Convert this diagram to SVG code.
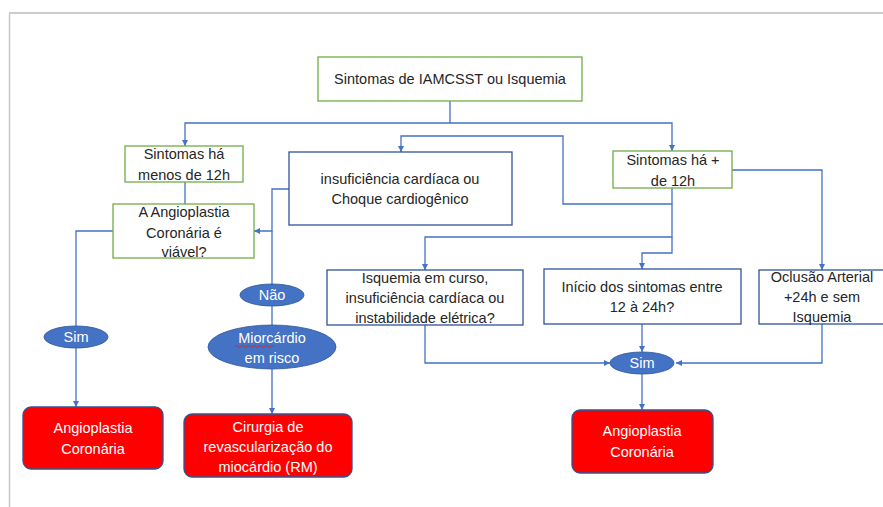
<svg xmlns="http://www.w3.org/2000/svg" width="883" height="507" viewBox="0 0 883 507">
<style>
text{font-family:"Liberation Sans","Open Sans",Arial,sans-serif;font-size:14.5px;fill:#262626;text-anchor:middle}
.w{fill:#ffffff}
.g{fill:#ffffff;stroke:#70AD47;stroke-width:1.3}
.b{fill:#ffffff;stroke:#2F5597;stroke-width:1.3}
.r{fill:#FF0000;stroke:#2F5597;stroke-width:1.3}
.e{fill:#4472C4;stroke:#2F5597;stroke-width:0.8}
.c{fill:none;stroke:#4472C4;stroke-width:1.3}
</style>
<defs>
<marker id="a" viewBox="0 0 10 10" refX="10" refY="5" markerWidth="6" markerHeight="6" markerUnits="userSpaceOnUse" orient="auto">
<path d="M0,0 L10,5 L0,10 z" fill="#4472C4"/>
</marker>
</defs>
<rect width="883" height="507" fill="#ffffff"/>
<g id="frame">
<line x1="9" y1="13" x2="883" y2="13" stroke="#cccccc" stroke-width="2"/>
<line x1="9.5" y1="13" x2="9.5" y2="507" stroke="#c8c8c8" stroke-width="1.5"/>
</g>
<g id="connectors">
<polyline class="c" points="450,101 450,123"/>
<polyline class="c" points="450,123 185,123 185,146" marker-end="url(#a)"/>
<polyline class="c" points="450,123 672,123 672,151" marker-end="url(#a)"/>
<polyline class="c" points="185,182 185,204"/>
<polyline class="c" points="672,188 672,204 563,204 563,136 401,136 401,152" marker-end="url(#a)"/>
<polyline class="c" points="289,189 272,189 272,231 254,231" marker-end="url(#a)"/>
<polyline class="c" points="272,231 272,284"/>
<polyline class="c" points="272,306 272,325"/>
<polyline class="c" points="272,369 272,414" marker-end="url(#a)"/>
<polyline class="c" points="113,231 76,231 76,326"/>
<polyline class="c" points="76,348 76,407" marker-end="url(#a)"/>
<polyline class="c" points="672,204 672,237 425,237 425,270" marker-end="url(#a)"/>
<polyline class="c" points="672,237 672,253 642,253 642,269" marker-end="url(#a)"/>
<polyline class="c" points="732,170 822,170 822,270" marker-end="url(#a)"/>
<polyline class="c" points="425,325 425,363 610,363" marker-end="url(#a)"/>
<polyline class="c" points="642,324 642,352" marker-end="url(#a)"/>
<polyline class="c" points="822,324 822,363 676,363" marker-end="url(#a)"/>
<polyline class="c" points="642,374 642,410" marker-end="url(#a)"/>
</g>
<g id="n-top">
<rect class="g" x="318" y="57" width="264" height="44"/>
<text x="450" y="84">Sintomas de IAMCSST ou Isquemia</text>
</g>
<g id="n-menos12">
<rect class="g" x="125" y="146" width="118" height="36"/>
<text x="184" y="159">Sintomas há</text>
<text x="184" y="180">menos de 12h</text>
</g>
<g id="n-viavel">
<rect class="g" x="113" y="204" width="141" height="54"/>
<text x="184" y="217">A Angioplastia</text>
<text x="184" y="238">Coronária é</text>
<text x="184" y="257">viável?</text>
</g>
<g id="n-insuf">
<rect class="b" x="289" y="152" width="223" height="73"/>
<text x="400" y="184">insuficiência cardíaca ou</text>
<text x="400" y="204">Choque cardiogênico</text>
</g>
<g id="n-mais12">
<rect class="g" x="613" y="151" width="119" height="37"/>
<text x="673" y="165">Sintomas há +</text>
<text x="673" y="186">de 12h</text>
</g>
<g id="n-isquemia">
<rect class="b" x="327" y="270" width="196" height="55"/>
<text x="425" y="283">Isquemia em curso,</text>
<text x="425" y="303">insuficiência cardíaca ou</text>
<text x="425" y="323">instabilidade elétrica?</text>
</g>
<g id="n-inicio">
<rect class="b" x="544" y="269" width="197" height="55"/>
<text x="642" y="292">Início dos sintomas entre</text>
<text x="642" y="312">12 à 24h?</text>
</g>
<g id="n-oclusao">
<rect class="b" x="759" y="270" width="140" height="54"/>
<text x="822" y="282">Oclusão Arterial</text>
<text x="822" y="302">+24h e sem</text>
<text x="822" y="322">Isquemia</text>
</g>
<g id="n-sim-left">
<ellipse class="e" cx="76" cy="337" rx="32" ry="11"/>
<text class="w" x="76" y="342">Sim</text>
</g>
<g id="n-nao">
<ellipse class="e" cx="272" cy="295" rx="32" ry="11"/>
<text class="w" x="272" y="300">Não</text>
</g>
<g id="n-miocardio">
<ellipse class="e" cx="272" cy="347" rx="64" ry="22"/>
<text class="w" x="272" y="343">Miorcárdio</text>
<path d="M235,346.5 q1.5,-2 3,0 t3,0 t3,0 t3,0 t3,0 t3,0 t3,0 t3,0 t3,0 t3,0 t3,0 t3,0 t3,0" fill="none" stroke="#e02020" stroke-width="0.9"/>
<text class="w" x="272" y="363">em risco</text>
</g>
<g id="n-sim-right">
<ellipse class="e" cx="642" cy="363" rx="32" ry="11"/>
<text class="w" x="642" y="368">Sim</text>
</g>
<g id="n-angio-left">
<rect class="r" x="23" y="407" width="140" height="62" rx="8"/>
<text class="w" x="93" y="433">Angioplastia</text>
<text class="w" x="93" y="454">Coronária</text>
</g>
<g id="n-cirurgia">
<rect class="r" x="184" y="414" width="168" height="63" rx="8"/>
<text class="w" x="268" y="432">Cirurgia de</text>
<text class="w" x="268" y="452">revascularização do</text>
<text class="w" x="268" y="472">miocárdio (RM)</text>
</g>
<g id="n-angio-right">
<rect class="r" x="572" y="410" width="141" height="63" rx="8"/>
<text class="w" x="642" y="436">Angioplastia</text>
<text class="w" x="642" y="457">Coronária</text>
</g>
</svg>
